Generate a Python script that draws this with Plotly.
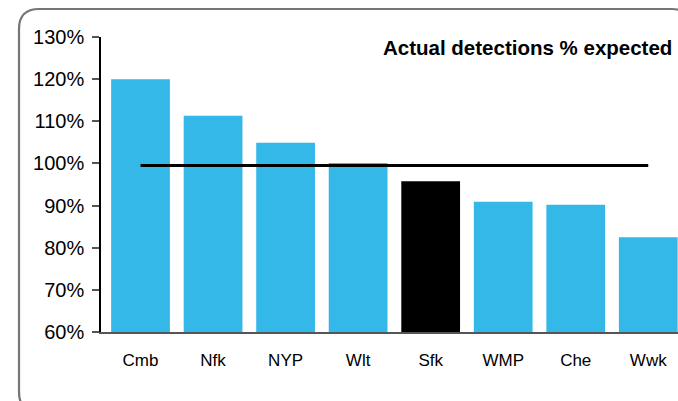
import plotly.graph_objects as go

categories = ["Cmb", "Nfk", "NYP", "Wlt", "Sfk", "WMP", "Che", "Wwk"]
actual_pct = [120.0, 111.3, 104.9, 100.1, 95.8, 90.9, 90.2, 82.5]
expected_line = [99.5] * 8
y_ticks = [60, 70, 80, 90, 100, 110, 120, 130]
y_tick_labels = ["60%", "70%", "80%", "90%", "100%", "110%", "120%", "130%"]
title_text = "Actual detections % expected"

BLUE = "#33B8E8"
colors = ["#000000" if c == "Sfk" else BLUE for c in categories]

W, H = 678, 401
ML, MR, MT, MB = 101, 0, 37, 69
pw = W - ML - MR
ph = H - MT - MB

def px2paper(x, y):
    return (x - ML) / pw, (H - MB - y) / ph

fig = go.Figure()
fig.add_trace(go.Bar(
    x=categories, y=actual_pct, base=0, marker=dict(color=colors, line=dict(width=0)),
    width=0.81, showlegend=False, hoverinfo="x+y"))
fig.add_trace(go.Scatter(
    x=categories, y=expected_line, mode="lines",
    line=dict(color="#000000", width=3), showlegend=False))

# rounded border (partially off-canvas)
L, T, R, B, r = 19, 9, 692, 412, 20
def P(x, y):
    a, b = px2paper(x, y)
    return f"{a:.5f},{b:.5f}"
path = (f"M {P(L + r, T)} L {P(R - r, T)} Q {P(R, T)} {P(R, T + r)} "
        f"L {P(R, B - r)} Q {P(R, B)} {P(R - r, B)} L {P(L + r, B)} "
        f"Q {P(L, B)} {P(L, B - r)} L {P(L, T + r)} Q {P(L, T)} {P(L + r, T)} Z")
fig.add_shape(type="path", path=path, xref="paper", yref="paper",
              line=dict(color="#767676", width=2.2), fillcolor="rgba(0,0,0,0)", layer="below")

tx, ty = px2paper(381, 48)
fig.add_annotation(text=f"<b>{title_text}</b>", x=tx, y=ty, xref="paper", yref="paper",
                   xanchor="left", yanchor="middle", showarrow=False,
                   font=dict(family="Liberation Sans, Arial", size=20.5, color="#000000"))

fig.update_layout(
    width=W, height=H, margin=dict(l=ML, r=MR, t=MT, b=MB),
    plot_bgcolor="white", paper_bgcolor="white",
    font=dict(family="Liberation Sans, Arial", color="#000000"),
)
fig.update_xaxes(range=[-0.545, 7.41], showline=True, linecolor="#555555", linewidth=1.5,
                 ticks="", tickfont=dict(size=17), showgrid=False, zeroline=False,
                 ticklabelstandoff=12)
fig.update_yaxes(range=[60, 130], tickvals=y_ticks, ticktext=y_tick_labels,
                 showline=True, linecolor="#000000", linewidth=1.5,
                 ticks="outside", ticklen=7, tickcolor="#555555", tickwidth=1.5,
                 tickfont=dict(size=20), showgrid=False, zeroline=False,
                 ticklabelstandoff=4)

fig.write_html("out.html", config={"displayModeBar": False},
               post_script="document.body.style.margin='0';document.body.style.overflow='hidden';")
